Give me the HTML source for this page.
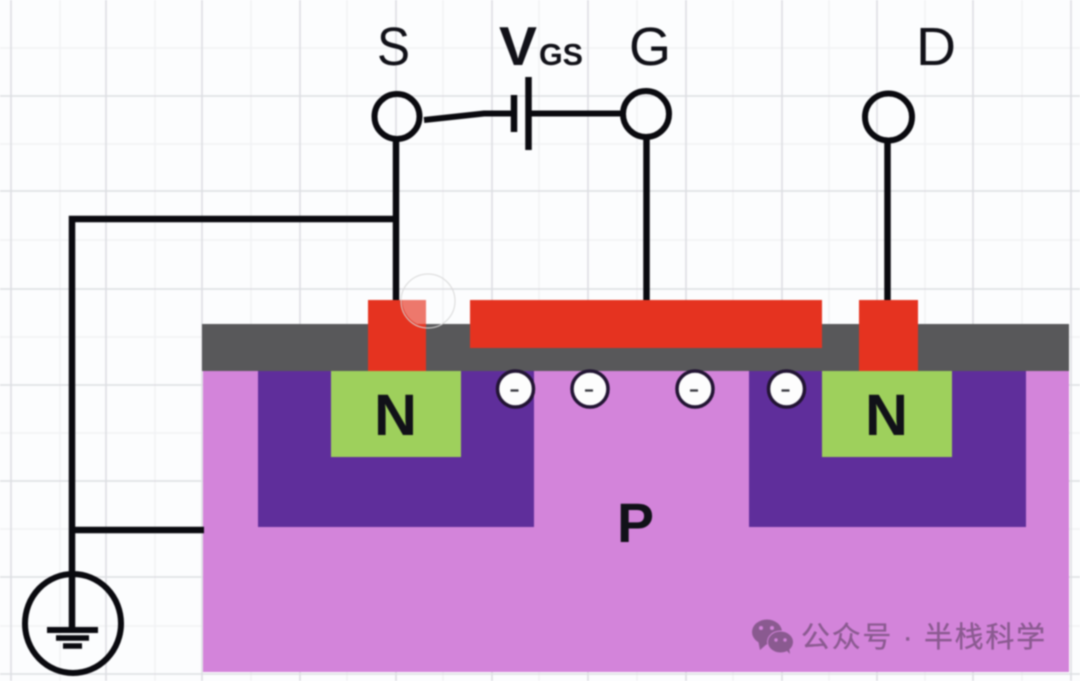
<!DOCTYPE html>
<html><head><meta charset="utf-8"><style>
html,body{margin:0;padding:0;background:#fcfdfe;width:1080px;height:681px;overflow:hidden}
svg{display:block;filter:blur(0.7px)}
text{font-family:"Liberation Sans","Noto Sans CJK SC",sans-serif}
</style></head><body>
<svg width="1080" height="681" viewBox="0 0 1080 681" xmlns="http://www.w3.org/2000/svg">
<rect width="1080" height="681" fill="#fcfdfe"/>
<g stroke="#f1f2f4" stroke-width="1.5" fill="none">
<path d="M60 0V681M155 0V681M251 0V681M347 0V681M443 0V681M539 0V681M637 0V681M733 0V681M829 0V681M925 0V681M1022 0V681"/>
<path d="M0 48H1080M0 144H1080M0 240H1080M0 337H1080M0 433H1080M0 529H1080M0 626H1080"/>
</g>
<g stroke="#dddee2" stroke-width="1.6" fill="none">
<path d="M11 0V681M106 0V681M202 0V681M300 0V681M396 0V681M492 0V681M588 0V681M686 0V681M782 0V681M877 0V681M973 0V681M1071 0V681"/>
<path d="M0 96H1080M0 191H1080M0 289H1080M0 385H1080M0 481H1080M0 577H1080M0 674H1080"/>
</g>

<rect x="202" y="324" width="867" height="47" fill="#58585a"/>
<rect x="203" y="371" width="866" height="301" fill="#d384da"/>
<rect x="258" y="371" width="276" height="156" fill="#5f2e9b"/>
<rect x="749" y="371" width="277" height="156" fill="#5f2e9b"/>
<rect x="331" y="371" width="130" height="86" fill="#9ed05c"/>
<rect x="822" y="371" width="130" height="86" fill="#9ed05c"/>

<g stroke="#0a0a0f" fill="none">
<path d="M396 140V300" stroke-width="6.500"/>
<path d="M646.5 138V300" stroke-width="6.500"/>
<path d="M887.5 141V300" stroke-width="6.500"/>
<path d="M396 219H72V630" stroke-width="6.500"/>
<path d="M72 530H204" stroke-width="6.500"/>
<path d="M424 120L484 113.500H513" stroke-width="6"/>
<path d="M530 113.500H622" stroke-width="6"/>
<path d="M514 95V132" stroke-width="6.500"/>
<path d="M528.500 77V150" stroke-width="6.500"/>
<circle cx="397" cy="116.500" r="22.500" stroke-width="6"/>
<circle cx="646" cy="114" r="23" stroke-width="6"/>
<circle cx="888.500" cy="117" r="23.500" stroke-width="6"/>
<ellipse cx="73" cy="623.500" rx="48" ry="49.500" stroke-width="6"/>
<path d="M47 630H98" stroke-width="6"/>
<path d="M56 638H89" stroke-width="5.500"/>
<path d="M63 646H82" stroke-width="5.500"/>
</g>

<rect x="368" y="300" width="58" height="71" fill="#e53320"/>
<rect x="470" y="300" width="352" height="48" fill="#e53320"/>
<rect x="859" y="300" width="59" height="71" fill="#e53320"/>

<circle cx="428" cy="301" r="27" fill="#fff" fill-opacity="0.03" stroke="#d8d8d8" stroke-width="1"/>
<path d="M402 300H426V324H417A27 27 0 0 1 402 300Z" fill="#fff" fill-opacity="0.32"/>

<g fill="#fdfdfd" stroke="#221433" stroke-width="3.500">
<circle cx="515.500" cy="389" r="18"/>
<circle cx="590" cy="389" r="18"/>
<circle cx="695" cy="389" r="18"/>
<circle cx="786.500" cy="389" r="18"/>
</g>
<g stroke="#33333a" stroke-width="2.200">
<path d="M510.500 390.500H518.500M585 390.500H593M690 390.500H698M781.500 390.500H789.500"/>
</g>

<g fill="#111118">
<text x="377" y="65" font-size="54" textLength="33" lengthAdjust="spacingAndGlyphs">S</text>
<text x="629" y="65" font-size="54" textLength="42" lengthAdjust="spacingAndGlyphs">G</text>
<text x="916" y="65" font-size="54" textLength="40" lengthAdjust="spacingAndGlyphs">D</text>
<text x="499" y="65" font-size="55" font-weight="bold" textLength="38" lengthAdjust="spacingAndGlyphs">V</text>
<text x="539" y="65" font-size="31" font-weight="bold" textLength="44" lengthAdjust="spacingAndGlyphs">GS</text>
<text x="374" y="435" font-size="58" font-weight="bold" textLength="43" lengthAdjust="spacingAndGlyphs">N</text>
<text x="865" y="435" font-size="58" font-weight="bold" textLength="43" lengthAdjust="spacingAndGlyphs">N</text>
<text x="617" y="542" font-size="56" font-weight="bold" textLength="37" lengthAdjust="spacingAndGlyphs">P</text>
</g>

<g fill="#8a5a90">
<ellipse cx="767" cy="632" rx="15" ry="12.500"/>
<path d="M758 640L760 650L768 643Z"/>
<ellipse cx="780.500" cy="642" rx="13" ry="11" stroke="#d384da" stroke-width="1"/>
<path d="M786 650L790 654L789 647Z"/>
</g>
<g fill="#d384da">
<circle cx="761" cy="628" r="2"/><circle cx="772" cy="628" r="2"/>
<circle cx="776" cy="640" r="1.700"/><circle cx="785" cy="640" r="1.700"/>
</g>
<text x="801" y="647" font-size="29" fill="#8a5a90" stroke="#8a5a90" stroke-width="0.300" letter-spacing="1.700">公众号 · 半栈科学</text>
</svg>
</body></html>
